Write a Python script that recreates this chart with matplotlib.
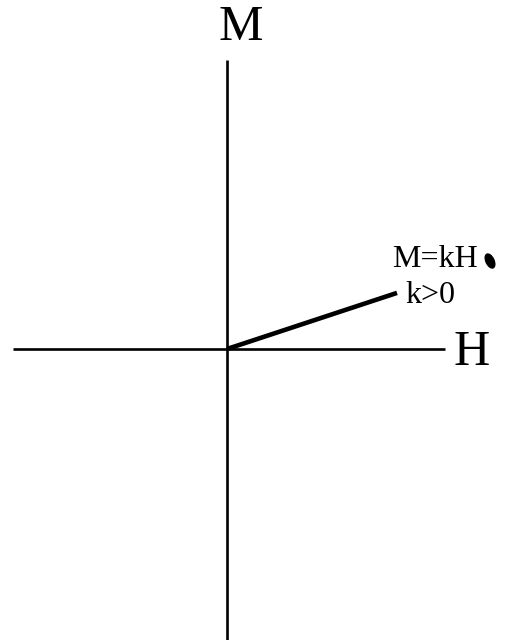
import matplotlib
matplotlib.use("Agg")
import matplotlib.pyplot as plt
from matplotlib.patches import Ellipse

# axis extents (data units, origin at the crossing)
h_axis = [-214, 218]
m_axis = [-295, 289]

# M = kH, k > 0
k = 0.33
h_line = [0, 170]
m_line = [k * h for h in h_line]

plt.rcParams["font.family"] = ["Liberation Serif", "DejaVu Serif"]

fig = plt.figure(figsize=(5.09, 6.4), dpi=100)
ax = fig.add_axes([0, 0, 1, 1])
ax.set_xlim(-227, 282)
ax.set_ylim(-291, 349)
ax.axis("off")

ax.plot(h_axis, [0, 0], color="black", linewidth=1.9, solid_capstyle="butt")
ax.plot([0, 0], m_axis, color="black", linewidth=1.9, solid_capstyle="butt")
ax.plot(h_line, m_line, color="black", linewidth=3.3, solid_capstyle="butt")

ax.text(14, 321, "M", fontsize=36, ha="center", va="center")
ax.text(245, -4, "H", fontsize=36, ha="center", va="center")
ax.text(165, 82, "M=kH", fontsize=23, ha="left", va="baseline")
ax.text(178, 46, "k>0", fontsize=23, ha="left", va="baseline")
ax.add_patch(Ellipse((263, 88), 8, 15, angle=25, color="black"))

fig.savefig("out.png", dpi=100)
